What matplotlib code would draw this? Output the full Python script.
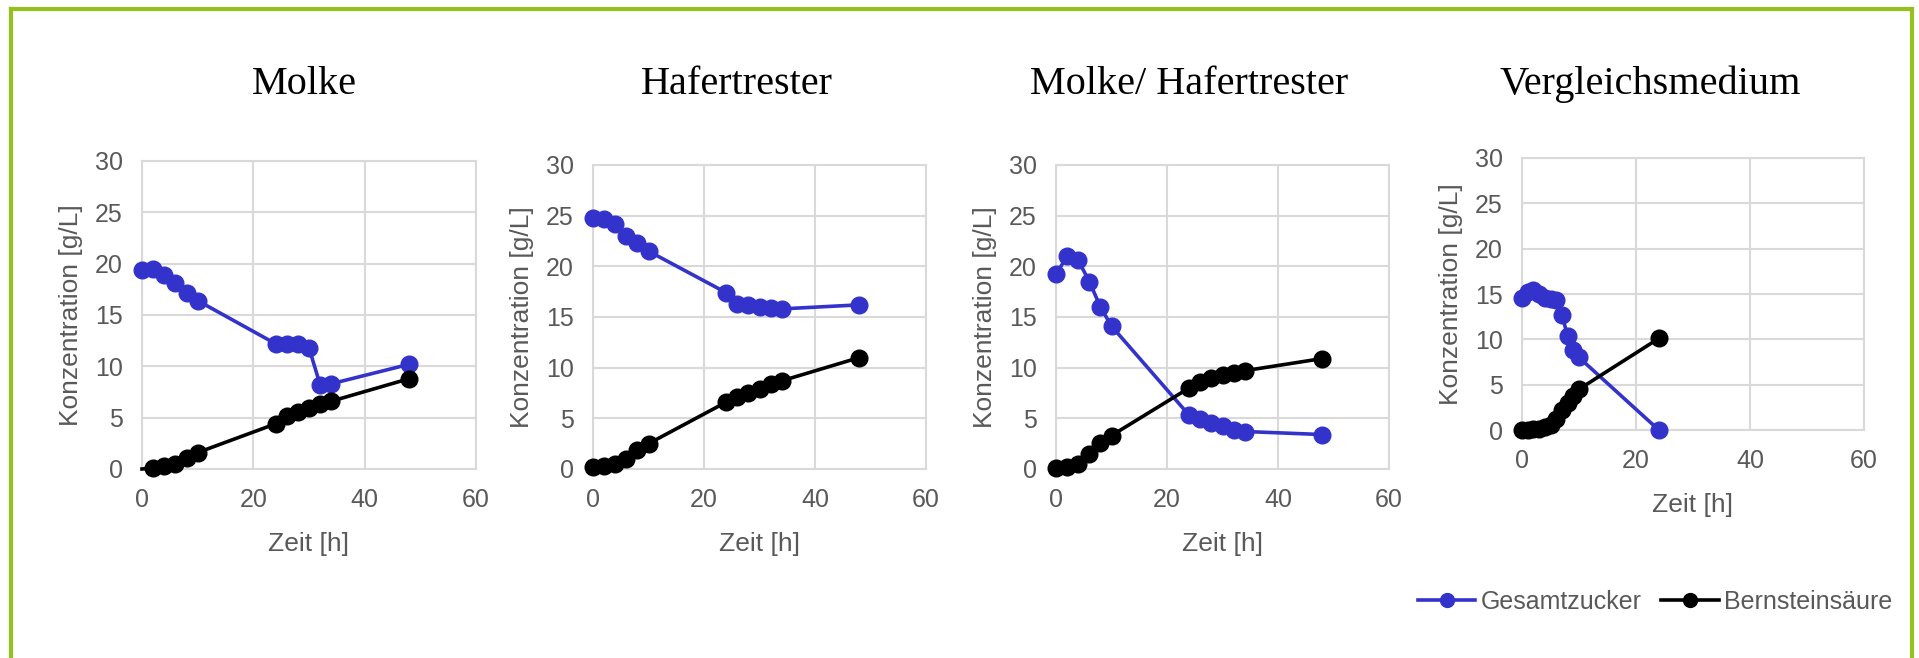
import matplotlib
matplotlib.use('Agg')
import matplotlib.pyplot as plt
from matplotlib.lines import Line2D

# time points (h)
zeit = [0, 2, 4, 6, 8, 10, 24, 26, 28, 30, 32, 34, 48]
zeit_vergleich = [0, 1, 2, 3, 4, 5, 6, 7, 8, 9, 10, 24]

# Molke
molke_zucker = [19.4, 19.5, 18.9, 18.1, 17.1, 16.4, 12.2, 12.2, 12.2, 11.8, 8.2, 8.3, 10.2]
molke_bernstein = [0.0, 0.1, 0.3, 0.5, 1.1, 1.6, 4.4, 5.2, 5.6, 5.9, 6.3, 6.6, 8.8]

# Hafertrester
hafer_zucker = [24.8, 24.7, 24.2, 23.0, 22.3, 21.5, 17.4, 16.3, 16.2, 16.0, 15.9, 15.8, 16.2]
hafer_bernstein = [0.2, 0.25, 0.5, 1.0, 1.9, 2.5, 6.6, 7.1, 7.5, 7.9, 8.4, 8.7, 11.0]

# Molke/ Hafertrester
mix_zucker = [19.2, 21.0, 20.6, 18.5, 16.0, 14.1, 5.3, 4.9, 4.5, 4.2, 3.8, 3.7, 3.4]
mix_bernstein = [0.1, 0.2, 0.5, 1.5, 2.6, 3.3, 8.0, 8.6, 9.0, 9.3, 9.5, 9.7, 10.9]

# Vergleichsmedium
verg_zucker = [14.6, 15.2, 15.4, 15.0, 14.6, 14.5, 14.3, 12.7, 10.4, 8.8, 8.0, 0.0]
verg_bernstein = [0.05, 0.05, 0.1, 0.15, 0.3, 0.6, 1.2, 2.2, 3.0, 3.7, 4.5, 10.1]

titles = ['Molke', 'Hafertrester', 'Molke/ Hafertrester', 'Vergleichsmedium']

W, H = 1919, 658
fig = plt.figure(figsize=(W / 100, H / 100), dpi=100)
fig.patch.set_facecolor('white')

BLUE = '#3333CC'
GRAY_TXT = '#595959'
GRID = '#D9D9D9'
GREEN = '#95C11F'

# axes boxes in pixels: left, right, top, bottom
boxes = [(142, 476, 161, 469), (593, 926, 165, 469),
         (1056, 1389, 165, 469), (1522, 1864, 158, 430)]
title_x = [304, 737, 1189, 1650]

panels = [
    (zeit, molke_zucker, zeit, molke_bernstein),
    (zeit, hafer_zucker, zeit, hafer_bernstein),
    (zeit, mix_zucker, zeit, mix_bernstein),
    (zeit_vergleich, verg_zucker, zeit_vergleich, verg_bernstein),
]

for i, (l, r, t, b) in enumerate(boxes):
    ax = fig.add_axes([l / W, (H - b) / H, (r - l) / W, (b - t) / H])
    xz, yz, xb, yb = panels[i]
    mev_b = slice(1, None) if i == 0 else None
    ax.plot(xz, yz, '-o', color=BLUE, lw=2.6, ms=12, zorder=3, clip_on=False)
    ax.plot(xb, yb, '-o', color='black', lw=2.6, ms=12, markevery=mev_b,
            zorder=3, clip_on=False)
    ax.set_xlim(0, 60)
    ax.set_ylim(0, 30)
    ax.set_xticks([0, 20, 40, 60])
    ax.set_yticks([0, 5, 10, 15, 20, 25, 30])
    ax.grid(True, color=GRID, lw=1.5)
    ax.set_axisbelow(True)
    for s in ax.spines.values():
        s.set_color(GRID)
        s.set_linewidth(1.5)
    ax.tick_params(length=0, labelsize=18, labelcolor=GRAY_TXT, pad=14)
    for lab in ax.get_xticklabels() + ax.get_yticklabels():
        lab.set_family('Liberation Sans')
    ax.set_xlabel('Zeit [h]', fontsize=19, color=GRAY_TXT, family='Liberation Sans', labelpad=14)
    ax.set_ylabel('Konzentration [g/L]', fontsize=19, color=GRAY_TXT, family='Liberation Sans', labelpad=8)
    fig.text(title_x[i] / W, (H - 84) / H, titles[i], ha='center', va='center',
             fontsize=29, family='Liberation Serif', color='black')

handles = [Line2D([], [], color=BLUE, lw=2.6, marker='o', ms=10),
           Line2D([], [], color='black', lw=2.6, marker='o', ms=10)]
leg = fig.legend(handles, ['Gesamtzucker', 'Bernsteinsäure'], loc='center',
                 bbox_to_anchor=(1655 / W, (H - 602) / H), ncol=2, frameon=False,
                 prop={'family': 'Liberation Sans', 'size': 18},
                 handlelength=2.3, handletextpad=0.2, columnspacing=0.8)
for txt in leg.get_texts():
    txt.set_color(GRAY_TXT)

# green frame (open at the bottom)
fig.add_artist(Line2D([11 / W, 11 / W], [0, (H - 9) / H], color=GREEN, lw=3, transform=fig.transFigure))
fig.add_artist(Line2D([11 / W, 1912 / W], [(H - 9) / H, (H - 9) / H], color=GREEN, lw=3, transform=fig.transFigure))
fig.add_artist(Line2D([1912 / W, 1912 / W], [0, (H - 9) / H], color=GREEN, lw=3, transform=fig.transFigure))

fig.savefig('out.png', dpi=100)
